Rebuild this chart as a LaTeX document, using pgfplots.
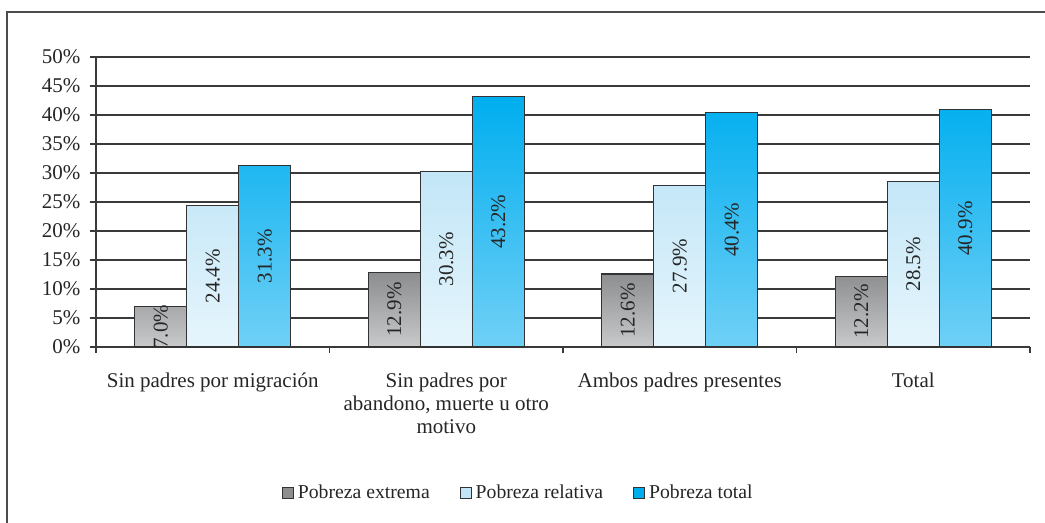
\documentclass[border=0pt]{standalone}
\usepackage{pgfplots}
\pgfplotsset{compat=1.18}
\usepackage{pgfplotstable}
\usepackage{fontspec}
\setmainfont{Liberation Serif}
\definecolor{gTop}{HTML}{8C8D8F}
\definecolor{gBot}{HTML}{C8C9CB}
\definecolor{lTop}{HTML}{C2E6F7}
\definecolor{lBot}{HTML}{E6F5FC}
\definecolor{bTop}{HTML}{00AEEF}
\definecolor{bBot}{HTML}{70D0F6}
\definecolor{bord}{HTML}{333333}
\definecolor{gridc}{HTML}{3A3A3A}
\pgfplotstableread{
x ext rel tot
0 7.0 24.4 31.3
1 12.9 30.3 43.2
2 12.6 27.9 40.4
3 12.2 28.5 40.9
}\data
\newcommand{\lf}{\fontsize{21bp}{23bp}\selectfont}
\newcommand{\lgf}{\fontsize{19.7bp}{22bp}\selectfont}
\begin{document}
\begin{tikzpicture}
\useasboundingbox (0,0) rectangle (1045bp,523bp);
\draw[line width=1.5bp, color=gray!60!black] (7bp,0bp) -- (7bp,511bp) -- (1045bp,511bp);
\begin{axis}[
  at={(96bp,176bp)}, anchor=south west,
  width=934bp, height=290bp, scale only axis,
  xmin=-0.5, xmax=3.5, ymin=0, ymax=50,
  axis lines=left, axis line style={-, line width=1.3bp, color=gridc},
  xtick={0,1,2,3},
  xticklabels={Sin padres por migración, {Sin padres por\\abandono, muerte u otro\\motivo}, Ambos padres presentes, Total},
  minor xtick={-0.5,0.5,1.5,2.5,3.5},
  major x tick style={draw=none},
  minor x tick style={line width=1.3bp, color=gridc},
  minor tick length=6bp,
  ytick={0,5,...,50},
  yticklabel={\pgfmathprintnumber{\tick}\%},
  /pgf/number format/assume math mode=true,
  major tick length=6bp,
  tick align=outside,
  ytick style={line width=1.3bp, color=gridc},
  ymajorgrids, grid style={line width=1.3bp, color=gridc},
  tick label style={font=\lf, text=black!85},
  yticklabel style={xshift=-6bp},
  xticklabel style={align=center, yshift=-16bp},
  legend columns=3,
  legend style={at={(0.451,-0.503)}, anchor=center, draw=none, fill=none, font=\lgf, text=black!85,
    /tikz/every even column/.append style={column sep=30bp}, nodes={inner xsep=0bp}},
  clip=false,
]
\addlegendimage{legend image code/.code={\draw[fill=gTop, draw=bord, line width=1bp] (0bp,-5.5bp) rectangle (11bp,5.5bp);}}
\addlegendentry{\hspace{4bp}Pobreza extrema}
\addlegendimage{legend image code/.code={\draw[fill=lTop, draw=bord, line width=1bp] (0bp,-5.5bp) rectangle (11bp,5.5bp);}}
\addlegendentry{\hspace{4bp}Pobreza relativa}
\addlegendimage{legend image code/.code={\draw[fill=bTop, draw=bord, line width=1bp] (0bp,-5.5bp) rectangle (11bp,5.5bp);}}
\addlegendentry{\hspace{4bp}Pobreza total}
\addplot[ybar, forget plot, bar width=0.2227, bar shift=-0.2227, draw=bord, line width=1.3bp, top color=gTop, bottom color=gBot] table[x=x, y=ext]{\data};
\addplot[ybar, forget plot, bar width=0.2227, bar shift=0, draw=bord, line width=1.3bp, top color=lTop, bottom color=lBot] table[x=x, y=rel]{\data};
\addplot[ybar, forget plot, bar width=0.2227, bar shift=0.2227, draw=bord, line width=1.3bp, top color=bTop, bottom color=bBot] table[x=x, y=tot]{\data};
\pgfplotsset{lbl/.style={draw=none, mark=none, forget plot, point meta=explicit,
  nodes near coords={\pgfmathprintnumber[fixed,fixed zerofill,precision=1]{\pgfplotspointmeta}\%},
  every node near coord/.style={rotate=90, anchor=center, font=\lf, text=black!85, inner sep=0pt}}}
\addplot[lbl] table[x expr=\thisrow{x}-0.2227, y expr=\thisrow{ext}/2, meta=ext]{\data};
\addplot[lbl] table[x expr=\thisrow{x}, y expr=\thisrow{rel}/2, meta=rel]{\data};
\addplot[lbl] table[x expr=\thisrow{x}+0.2227, y expr=\thisrow{tot}/2, meta=tot]{\data};
\end{axis}
\end{tikzpicture}
\end{document}
